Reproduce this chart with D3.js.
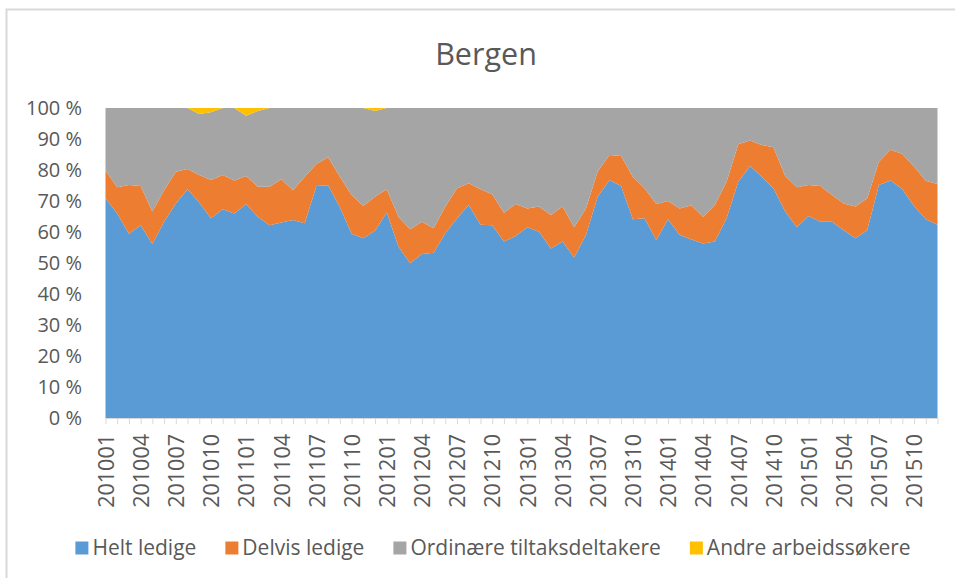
<!DOCTYPE html>
<html>
<head>
<meta charset="utf-8">
<script src="https://cdn.jsdelivr.net/npm/d3@7"></script>
<style>
  body { margin: 0; background: #fff; }
  text { font-family: "Open Sans", sans-serif; fill: #595959; }
</style>
</head>
<body>
<div id="chart"></div>
<script>
const WIDTH = 955;
const HEIGHT = 578;

// months 201001 .. 201512
const months = [
  "201001","201002","201003","201004","201005","201006","201007","201008","201009","201010","201011","201012",
  "201101","201102","201103","201104","201105","201106","201107","201108","201109","201110","201111","201112",
  "201201","201202","201203","201204","201205","201206","201207","201208","201209","201210","201211","201212",
  "201301","201302","201303","201304","201305","201306","201307","201308","201309","201310","201311","201312",
  "201401","201402","201403","201404","201405","201406","201407","201408","201409","201410","201411","201412",
  "201501","201502","201503","201504","201505","201506","201507","201508","201509","201510","201511","201512"
];

// shares in percent
const heltLedige = [70.9, 66.0, 59.4, 62.2, 56.1, 63.3, 69.2, 73.8, 69.5, 64.4, 67.3, 66.0,
  69.0, 64.9, 62.2, 63.1, 63.9, 62.8, 74.8, 75.1, 68.0, 59.4, 58.0, 60.4,
  66.3, 55.3, 49.9, 52.9, 53.3, 59.6, 64.4, 68.7, 62.3, 62.2, 56.9, 58.7,
  61.5, 60.1, 54.7, 56.9, 51.8, 59.0, 71.4, 76.8, 74.8, 64.1, 64.4, 57.4,
  64.1, 59.0, 57.6, 56.3, 56.9, 64.4, 76.2, 81.3, 77.8, 74.1, 66.6, 61.5,
  65.2, 63.3, 63.3, 60.6, 58.0, 60.6, 75.2, 76.6, 73.8, 68.4, 64.1, 62.3];

const delvisLedige = [8.9, 8.4, 15.8, 12.6, 10.5, 10.2, 10.2, 6.5, 8.9, 12.4, 11.1, 10.6,
  9.1, 9.7, 12.4, 13.9, 9.6, 15.0, 7.1, 9.0, 9.8, 12.5, 10.4, 11.0,
  7.5, 9.6, 11.0, 10.4, 7.9, 8.6, 9.7, 7.0, 11.5, 10.0, 9.3, 10.3,
  6.1, 8.1, 10.8, 11.3, 9.7, 8.6, 8.1, 8.0, 9.7, 13.7, 9.7, 11.6,
  5.9, 8.6, 11.0, 8.6, 11.8, 11.8, 12.1, 8.2, 10.3, 13.2, 11.5, 12.9,
  10.0, 11.5, 8.6, 8.6, 10.2, 10.3, 7.5, 9.9, 11.4, 12.7, 12.4, 13.2];

const ordinaere = [20.2, 25.6, 24.8, 25.2, 33.4, 26.5, 20.6, 19.7, 19.7, 21.8, 21.6, 23.4,
  19.4, 24.4, 25.4, 23.0, 26.5, 22.2, 18.1, 15.9, 22.2, 28.1, 31.6, 27.6,
  26.2, 35.1, 39.1, 36.7, 38.8, 31.8, 25.9, 24.3, 26.2, 27.8, 33.8, 31.0,
  32.4, 31.8, 34.5, 31.8, 38.5, 32.4, 20.5, 15.2, 15.5, 22.2, 25.9, 31.0,
  30.0, 32.4, 31.4, 35.1, 31.3, 23.8, 11.7, 10.5, 11.9, 12.7, 21.9, 25.6,
  24.8, 25.2, 28.1, 30.8, 31.8, 29.1, 17.3, 13.5, 14.8, 18.9, 23.5, 24.5];

const andre = [0, 0, 0, 0, 0, 0, 0, 0, 1.9, 1.4, 0, 0,
  2.5, 1.0, 0, 0, 0, 0, 0, 0, 0, 0, 0, 1.0,
  0, 0, 0, 0, 0, 0, 0, 0, 0, 0, 0, 0,
  0, 0, 0, 0, 0, 0, 0, 0, 0, 0, 0, 0,
  0, 0, 0, 0, 0, 0, 0, 0, 0, 0, 0, 0,
  0, 0, 0, 0, 0, 0, 0, 0, 0, 0, 0, 0];

const seriesNames = ["Helt ledige", "Delvis ledige", "Ordinære tiltaksdeltakere", "Andre arbeidssøkere"];
const seriesColors = ["#5B9BD5", "#ED7D31", "#A5A5A5", "#FFC000"];
const yTicks = [0, 0.1, 0.2, 0.3, 0.4, 0.5, 0.6, 0.7, 0.8, 0.9, 1];

function main(){
    let svg = d3.select("#chart")
        .append("svg")
        .attr("width", WIDTH)
        .attr("height", HEIGHT);

    // chart border
    svg.append("rect")
        .attr("x", 6.5).attr("y", 9.5)
        .attr("width", 960).attr("height", 580)
        .style("fill", "none")
        .style("stroke", "#d9d9d9")
        .style("stroke-width", 2);

    svg.append("text")
        .attr("x", 486)
        .attr("y", 65)
        .attr("text-anchor", "middle")
        .style("font-size", "30.5px")
        .text("Bergen");

    let rows = months.map((m, i) => ({
        month: m,
        [seriesNames[0]]: heltLedige[i],
        [seriesNames[1]]: delvisLedige[i],
        [seriesNames[2]]: ordinaere[i],
        [seriesNames[3]]: andre[i]
    }));

    let stacked = d3.stack()
        .keys(seriesNames)
        .offset(d3.stackOffsetExpand)(rows);

    let x = d3.scalePoint()
        .domain(months)
        .range([105.5, 937.5]);

    let y = d3.scaleLinear()
        .domain([0, 1])
        .range([418, 108]);

    let area = d3.area()
        .x(d => x(d.data.month))
        .y0(d => y(d[0]))
        .y1(d => y(d[1]));

    svg.append("g")
        .selectAll("path")
        .data(stacked)
        .enter()
        .append("path")
        .attr("d", area)
        .style("fill", (d, i) => seriesColors[i]);

    // y axis labels
    let yAxis = svg.append("g")
        .attr("transform", "translate(90,0)")
        .call(d3.axisLeft(y).tickValues(yTicks).tickSize(0).tickPadding(8)
            .tickFormat(d => Math.round(d * 100) + "\u00a0%"));
    yAxis.select(".domain").remove();
    yAxis.selectAll("text")
        .style("font-size", "20px")
        .style("font-family", "'Open Sans', sans-serif")
        .attr("fill", "#595959");

    // x axis
    let xAxis = svg.append("g")
        .attr("transform", "translate(0,418)")
        .call(d3.axisBottom(x).tickSize(6).tickSizeOuter(0)
            .tickFormat((d, i) => i % 3 === 0 ? d : ""));
    xAxis.select(".domain").style("stroke", "#d9d9d9").style("stroke-width", 1.2);
    xAxis.selectAll(".tick line").style("stroke", "#d9d9d9");
    xAxis.selectAll("text")
        .style("font-size", "21.5px")
        .style("font-family", "'Open Sans', sans-serif")
        .attr("fill", "#595959")
        .attr("text-anchor", "end")
        .attr("transform", "rotate(-90)")
        .attr("x", -16)
        .attr("y", 0)
        .attr("dy", "0.36em");

    // legend
    let legend = svg.append("g");
    let cursor = 0;
    seriesNames.forEach((name, i) => {
        let item = legend.append("g").attr("transform", `translate(${cursor},0)`);
        item.append("rect")
            .attr("x", 0).attr("y", -6.5)
            .attr("width", 13).attr("height", 13)
            .style("fill", seriesColors[i]);
        let t = item.append("text")
            .attr("x", 17).attr("y", 0)
            .attr("dy", "0.35em")
            .style("font-size", "21px")
            .text(name);
        cursor += 17 + t.node().getComputedTextLength() + 29;
    });
    let total = cursor - 29;
    legend.attr("transform", `translate(${493 - total / 2},548)`);
}

window.addEventListener("load", main);
</script>
</body>
</html>
